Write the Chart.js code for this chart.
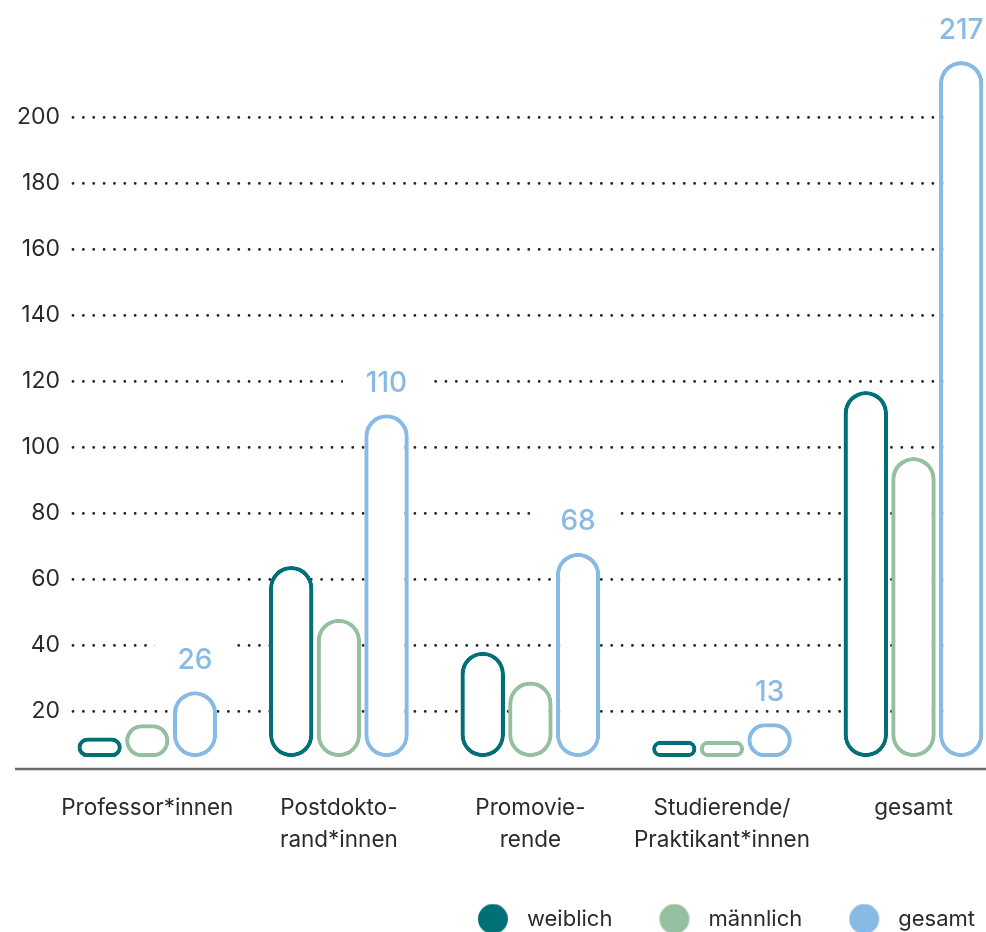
<!DOCTYPE html>
<html>
<head>
<meta charset="utf-8">
<script src="https://cdn.jsdelivr.net/npm/chart.js@4/dist/chart.umd.min.js"></script>
<style>
html,body{margin:0;padding:0;background:#fff;overflow:hidden}
#wrap{width:986px;height:932px;position:relative}
</style>
</head>
<body>
<div id="wrap"><canvas id="c"></canvas></div>
<script>
// ---- data ----
const categories = [
  ['Professor*innen'],
  ['Postdokto-', 'rand*innen'],
  ['Promovie-', 'rende'],
  ['Studierende/', 'Praktikant*innen'],
  ['gesamt']
];
const seriesNames = ['weiblich', 'männlich', 'gesamt'];
const weiblich  = [12, 64, 38, 11, 117];
const maennlich = [16, 48, 29, 11, 97];
const gesamt    = [26, 110, 68, 13, 217];
const yTickValues = [20, 40, 60, 80, 100, 120, 140, 160, 180, 200];
const BAR_BASE = 6;

// ---- style ----
const COLORS = ['#006f76', '#94c0a0', '#88bae6'];
const TEXT = '#2b2b2b';
const FONT = 'Inter, "Noto Sans", sans-serif';
const LEGEND_FONT = 22;

function toPoints(arr) {
  return arr.map((v, i) => ({ x: i, y: [BAR_BASE, v] }));
}

function makeDot(color) {
  const c = document.createElement('canvas');
  c.width = 81; c.height = 31;
  const g = c.getContext('2d');
  g.fillStyle = color;
  g.beginPath();
  g.arc(81 + LEGEND_FONT / 2 - 19 - 15, 15.5, 15, 0, Math.PI * 2);
  g.fill();
  return c;
}
const dots = COLORS.map(makeDot);

const seriesData = [weiblich, maennlich, gesamt];

const roundCapPlugin = {
  id: 'roundCap',
  beforeDraw(chart) { chart.ctx.lineCap = 'round'; },
  beforeDatasetsDraw(chart) { chart.ctx.lineCap = 'butt'; }
};

const legendShiftPlugin = {
  id: 'legendShift',
  afterLayout(chart) {
    if (chart.legend) { chart.legend.top += 8; chart.legend.bottom += 8; }
  }
};

const labelPlugin = {
  id: 'valueLabels',
  afterDatasetsDraw(chart) {
    const ctx = chart.ctx;
    const meta = chart.getDatasetMeta(2);
    ctx.save();
    ctx.font = '500 28px ' + FONT;
    ctx.textAlign = 'center';
    ctx.textBaseline = 'middle';
    meta.data.forEach((el, i) => {
      const txt = String(gesamt[i]);
      const w = ctx.measureText(txt).width;
      const cy = el.y - 32;
      ctx.fillStyle = '#ffffff';
      ctx.fillRect(el.x - w / 2 - 23, cy - 20, w + 46, 34);
      ctx.fillStyle = COLORS[2];
      ctx.fillText(txt, el.x, cy + 1);
    });
    ctx.restore();
  }
};

const axisLinePlugin = {
  id: 'axisLine',
  afterDatasetsDraw(chart) {
    const ctx = chart.ctx;
    const y = chart.chartArea.bottom;
    ctx.save();
    ctx.strokeStyle = '#6a6a6a';
    ctx.lineWidth = 2.5;
    ctx.lineCap = 'butt';
    ctx.beginPath();
    ctx.moveTo(15, y);
    ctx.lineTo(chart.width, y);
    ctx.stroke();
    ctx.restore();
  }
};

new Chart(document.getElementById('c'), {
  type: 'bar',
  data: {
    datasets: seriesNames.map((name, k) => ({
      label: name,
      data: toPoints(seriesData[k]),
      backgroundColor: '#ffffff',
      borderColor: COLORS[k],
      borderWidth: 4.3,
      borderRadius: 200,
      borderSkipped: false,
      categoryPercentage: 0.7466,
      barPercentage: 0.933,
      minBarLength: k === 2 ? 34 : 0,
      clip: false
    }))
  },
  options: {
    responsive: true,
    maintainAspectRatio: false,
    animation: false,
    layout: { padding: { top: 54.5, right: 7, bottom: 0, left: 0 } },
    plugins: {
      tooltip: { enabled: false },
      legend: {
        position: 'bottom',
        align: 'end',
        labels: {
          usePointStyle: true,
          pointStyleWidth: 81,
          padding: 4,
          color: TEXT,
          font: { family: FONT, size: LEGEND_FONT },
          generateLabels(chart) {
            return chart.data.datasets.map((ds, i) => ({
              text: ds.label,
              fillStyle: COLORS[i],
              strokeStyle: COLORS[i],
              lineWidth: 0,
              pointStyle: dots[i],
              hidden: false,
              datasetIndex: i,
              fontColor: TEXT
            }));
          }
        }
      }
    },
    scales: {
      x: {
        type: 'linear',
        offset: false,
        min: -0.388,
        max: 4.342,
        afterBuildTicks(scale) { scale.ticks = categories.map((c, i) => ({ value: i })); },
        afterFit(scale) { scale.height = 127; },
        grid: { display: false, drawTicks: false },
        border: { display: false },
        ticks: {
          autoSkip: false,
          maxRotation: 0,
          padding: 23,
          color: TEXT,
          font: { family: FONT, size: 22.5, lineHeight: '32px' },
          callback: (v) => categories[v]
        }
      },
      y: {
        type: 'linear',
        min: 2.45,
        max: 219,
        afterBuildTicks(scale) { scale.ticks = yTickValues.map(v => ({ value: v })); },
        afterFit(scale) { scale.width = 73; },
        grid: { color: '#222222', lineWidth: 2.8, drawTicks: false },
        border: { display: false, dash: [0.01, 10.35] },
        ticks: {
          padding: 13,
          color: TEXT,
          font: { family: FONT, size: 23 }
        }
      }
    }
  },
  plugins: [roundCapPlugin, legendShiftPlugin, labelPlugin, axisLinePlugin]
});
</script>
</body>
</html>
